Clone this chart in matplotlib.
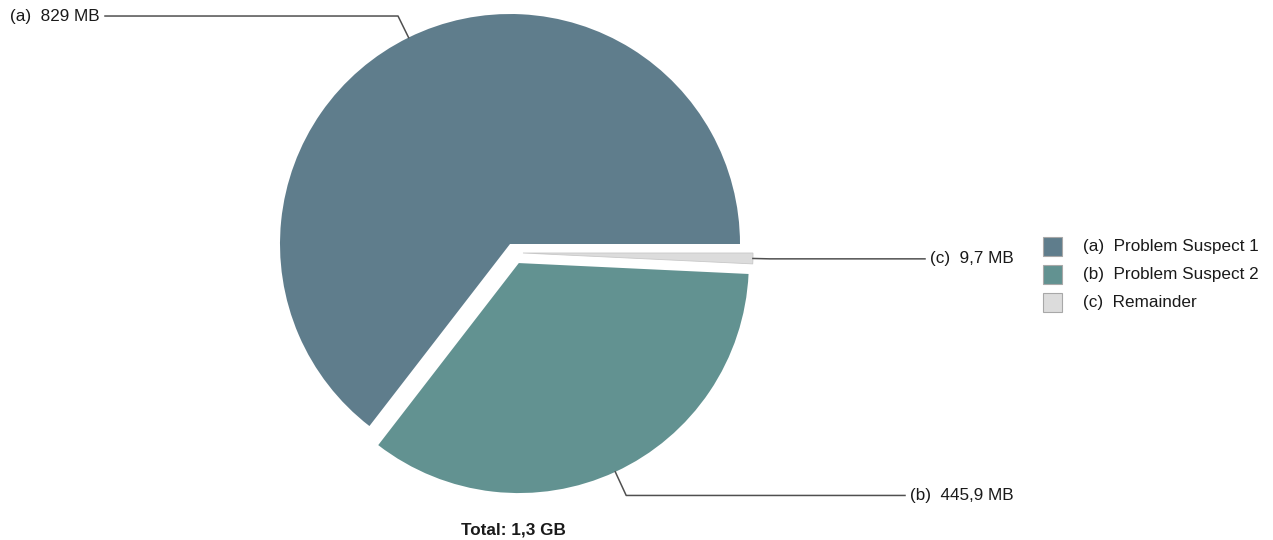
import numpy as np
import matplotlib
matplotlib.use("Agg")
import matplotlib.pyplot as plt
from matplotlib.patches import Rectangle

plt.rcParams['font.family'] = ['Liberation Sans', 'DejaVu Sans']

# Daten
keys = ['(a)', '(b)', '(c)']
names = ['Problem Suspect 1', 'Problem Suspect 2', 'Remainder']
sizes_mb = [829.0, 445.9, 9.7]
size_labels = ['829 MB', '445,9 MB', '9,7 MB']
total_label = 'Total: 1,3 GB'
colors = ['#5f7d8c', '#629291', '#dcdcdc']

W, H = 1273, 540
FS = 12.3
fig = plt.figure(figsize=(W / 100, H / 100), dpi=100)
ax = fig.add_axes([0, 0, 1, 1])

cx, cy, r = 510, H - 244, 230
wedges, _ = ax.pie(sizes_mb, colors=colors, startangle=0, counterclock=True,
                   radius=r, center=(cx, cy), explode=[0, 21, 14],
                   frame=True, wedgeprops=dict(linewidth=0))
ax.set_xlim(0, W)
ax.set_ylim(0, H)
ax.set_aspect('auto')
ax.axis('off')
wedges[2].set_center((cx + 13, cy - 9))
wedges[2].set_edgecolor('#c8c8c8')
wedges[2].set_linewidth(0.6)

# Beschriftungen mit Fuehrungslinien
label_x = [100, 910, 930]
ext = [24, 26, 17]
line_kw = dict(color='#505050', lw=1.1)
for i, w in enumerate(wedges):
    mid = np.deg2rad((w.theta1 + w.theta2) / 2)
    wx, wy = w.center
    x0, y0 = wx + r * np.cos(mid), wy + r * np.sin(mid)
    x1, y1 = wx + (r + ext[i]) * np.cos(mid), wy + (r + ext[i]) * np.sin(mid)
    if i == 0:
        ax.plot([x0, x1, label_x[i] + 5], [y0, y1, y1], **line_kw)
        ax.text(label_x[i], y1, f'{keys[i]}  {size_labels[i]}', ha='right',
                va='center', fontsize=FS, color='#1a1a1a')
    else:
        ax.plot([x0, x1, label_x[i] - 5], [y0, y1, y1], **line_kw)
        ax.text(label_x[i], y1, f'{keys[i]}  {size_labels[i]}', ha='left',
                va='center', fontsize=FS, color='#1a1a1a')

ax.text(cx + 3, H - 530, total_label, ha='center', va='center', fontsize=FS,
        fontweight='bold', color='#1a1a1a')

# Legende
lx, ly, box = 1043, H - 246, 19
for i in range(len(names)):
    yy = ly - i * 28
    ax.add_patch(Rectangle((lx, yy - box / 2), box, box, facecolor=colors[i],
                           edgecolor='#a8a8a8', lw=0.8))
    ax.text(lx + 40, yy, f'{keys[i]}  {names[i]}', ha='left', va='center',
            fontsize=FS, color='#1a1a1a')

fig.savefig('out.png', dpi=100)
